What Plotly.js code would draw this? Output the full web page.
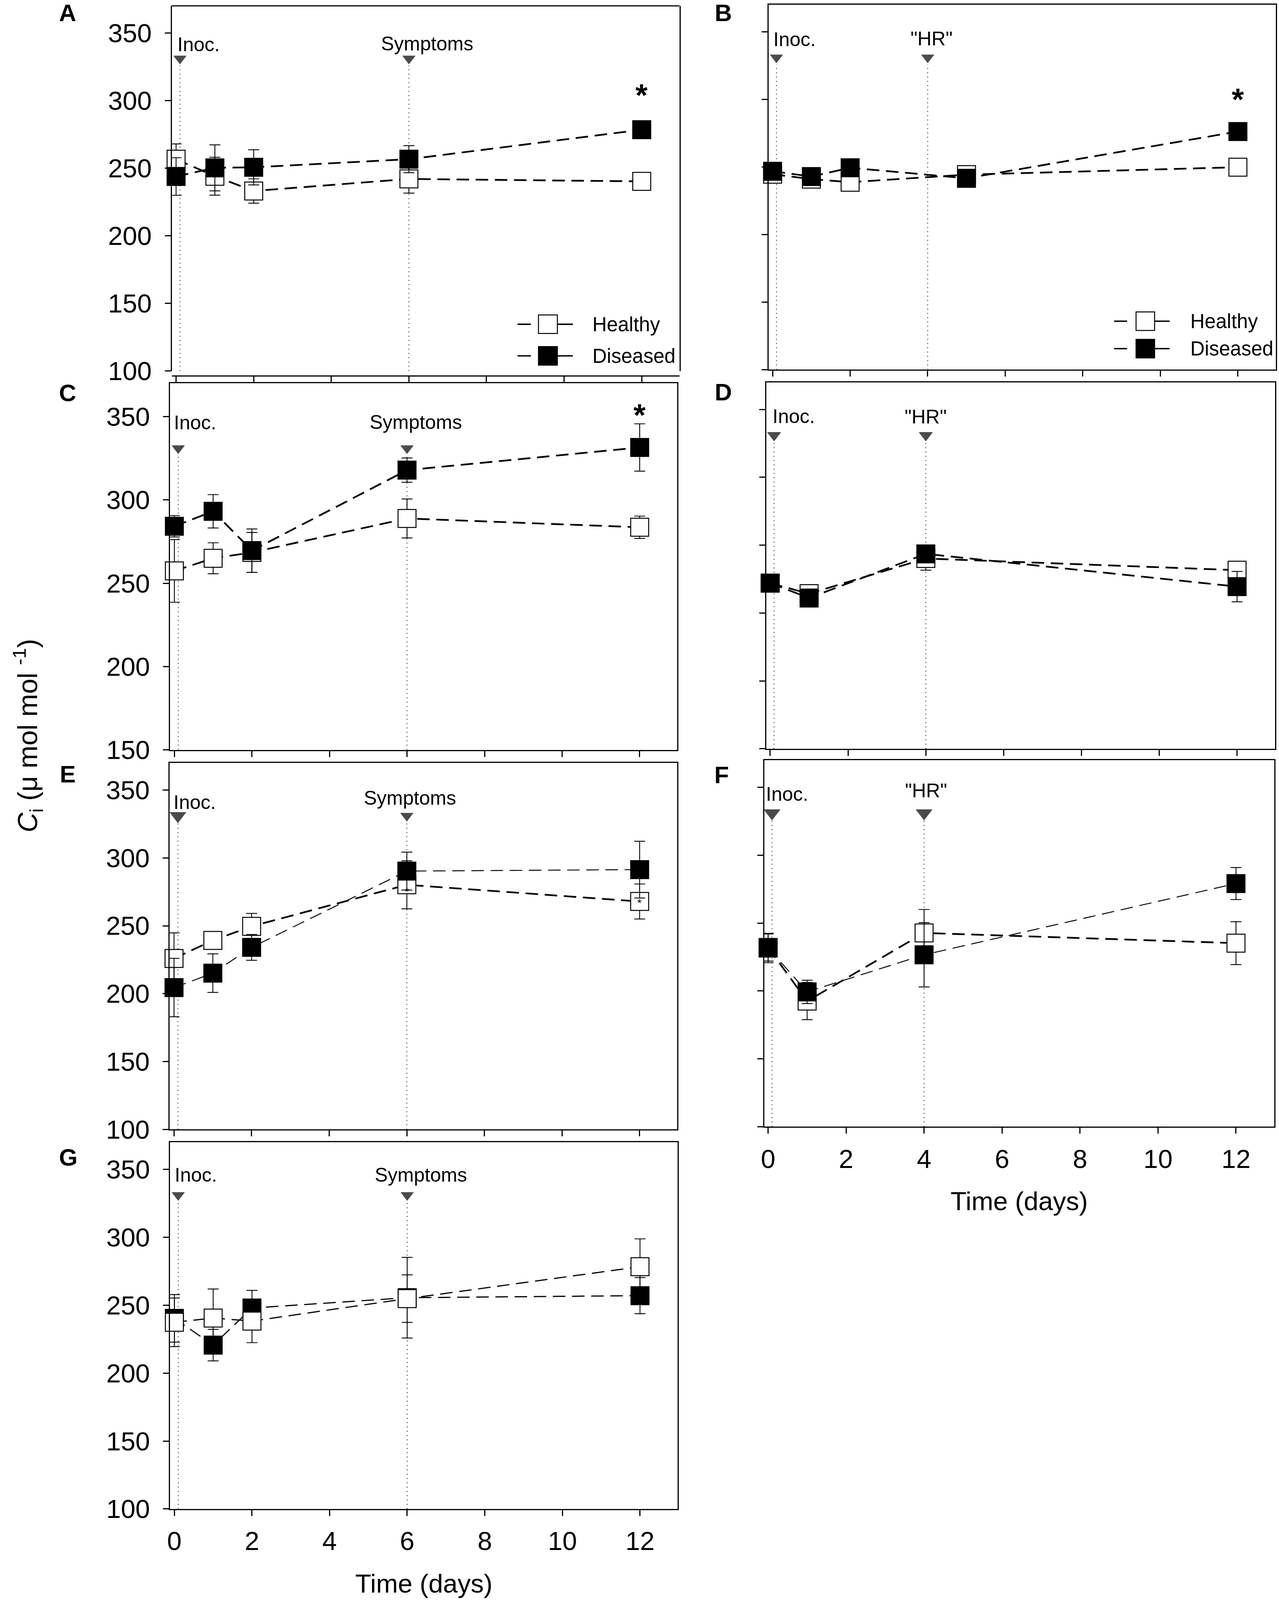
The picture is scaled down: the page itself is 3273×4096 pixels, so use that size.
<!DOCTYPE html>
<html><head><meta charset="utf-8">
<script src="https://cdn.plot.ly/plotly-3.0.1.min.js"></script>
<style>html,body{margin:0;padding:0;background:#fff}#chart{width:3273px;height:4096px}</style>
</head><body><div id="chart"></div>
<script>
// ---------------- data ----------------
const xTicks = [0, 2, 4, 6, 8, 10, 12];
const xTickLabels = ['0', '2', '4', '6', '8', '10', '12'];
const yTicks = [100, 150, 200, 250, 300, 350];
const yTickLabels = ['100', '150', '200', '250', '300', '350'];
const yTicksC = [150, 200, 250, 300, 350];
const yTickLabelsC = ['150', '200', '250', '300', '350'];
const seriesNames = ['Healthy', 'Diseased'];

const daysA = [0, 1, 2, 6, 12];
const healthyA = [256.6, 244.0, 233.1, 242.0, 240.2];
const healthySeA = [11.3, 14.0, 9.0, 10.5, 2.0];
const diseasedA = [243.8, 250.2, 250.6, 256.6, 278.4];
const diseasedSeA = [13.9, 17.0, 13.0, 10.0, 2.0];

const daysB = [0, 1, 2, 5, 12];
const healthyB = [244.6, 241.0, 238.7, 244.3, 249.8];
const healthySeB = [2, 2, 2, 2, 2];
const diseasedB = [246.8, 242.9, 249.4, 241.6, 276.2];
const diseasedSeB = [2, 2.5, 2, 2, 3];

const daysC = [0, 1, 2, 6, 12];
const healthyC = [257.4, 265.0, 268.5, 288.9, 283.6];
const healthySeC = [18.8, 9.3, 12.0, 11.7, 6.7];
const diseasedC = [284.2, 293.2, 269.6, 317.9, 331.5];
const diseasedSeC = [6.4, 10.0, 13.0, 7.3, 14.2];

const daysD = [0, 1, 4, 12];
const healthyD = [222.0, 214.3, 240.2, 231.6];
const healthySeD = [2, 2, 8.6, 2];
const diseasedD = [222.1, 211.1, 243.6, 219.5];
const diseasedSeD = [2, 2, 2, 11.2];

const daysE = [0, 1, 2, 6, 12];
const healthyE = [225.9, 239.2, 249.6, 280.2, 267.9];
const healthySeE = [18.9, 3.0, 9.5, 17.7, 12.9];
const diseasedE = [204.5, 215.1, 234.1, 290.3, 291.4];
const diseasedSeE = [21.5, 14.2, 9.5, 14.0, 20.9];

const daysF = [0, 1, 4, 12];
const healthyF = [232.0, 192.5, 242.7, 235.2];
const healthySeF = [10.0, 13.7, 17.3, 15.8];
const diseasedF = [231.6, 199.3, 226.6, 279.1];
const diseasedSeF = [10.8, 8.6, 23.7, 11.8];

const daysG = [0, 1, 2, 6, 12];
const healthyG = [237.4, 240.5, 238.3, 254.8, 278.3];
const healthySeG = [17.9, 21.4, 15.9, 17.5, 20.5];
const diseasedG = [240.3, 220.6, 247.9, 255.5, 257.0];
const diseasedSeG = [17.5, 11.6, 13.0, 29.7, 13.3];

// events (day of inoculation, day of symptoms / "HR")
const inocDay = 0.1;
const symptomsDay = 6;
const hrDay = 4;
const eventLabels = ['Inoc.', 'Symptoms', '"HR"'];
const signifDay = 12;

// ---------------- layout geometry (reference px 3722 x 4658) ----------------
const RW = 3722, RH = 4658;
const px = v => v / RW;
const py = v => 1 - v / RH;
const FONT = 'Liberation Sans, Arial, Helvetica, sans-serif';

const panels = [
  {id:'', letter:'A', days:daysA, h:healthyA, hs:healthySeA, d:diseasedA, ds:diseasedSeA,
   x0:500, x1:1977, y0:17, y1:1080, free:1094, yr:[100,370], xr:[-0.11,12.97], yl:true, xl:false,
   ev:symptomsDay, evText:eventLabels[1], inocLab:[0.01,341.5,'left'], evLab:[5.26,342,'left'],
   tri:[28,28], hw:4.4, dw:4.4, diseasedTop:true, letterPos:[197,35], topLetter:true, star:309},
  {id:'2', letter:'B', days:daysB, h:healthyB, hs:healthySeB, d:diseasedB, ds:diseasedSeB,
   x0:2237, x1:3713, y0:14, y1:1076, yr:[100,370], xr:[-0.10,12.98], yl:false, xl:false,
   ev:hrDay, evText:eventLabels[2], inocLab:[0.0,344.5,'left'], evLab:[4.1,345,'center'],
   tri:[28,28], hw:4.4, dw:4.4, diseasedTop:true, letterPos:[2105,32], topLetter:true, star:304.8},
  {id:'3', letter:'C', days:daysC, h:healthyC, hs:healthySeC, d:diseasedC, ds:diseasedSeC,
   x0:495, x1:1971, y0:1116, y1:2183, yr:[150,370], xr:[-0.11,12.97], yl:true, xl:false, cticks:true,
   ev:symptomsDay, evText:eventLabels[1], inocLab:[-0.03,346.5,'left'], evLab:[5.02,346.7,'left'],
   tri:[28,28], hw:4.4, dw:4.4, diseasedTop:true, letterPos:[197,1144], star:355},
  {id:'4', letter:'D', days:daysD, h:healthyD, hs:healthySeD, d:diseasedD, ds:diseasedSeD,
   x0:2230, x1:3711, y0:1113, y1:2180, yr:[100,370], xr:[-0.10,12.98], yl:false, xl:false,
   ev:hrDay, evText:eventLabels[2], inocLab:[0.04,345,'left'], evLab:[4.0,344.5,'center'],
   tri:[30,30], hw:4.4, dw:4.4, diseasedTop:true, letterPos:[2105,1142]},
  {id:'5', letter:'E', days:daysE, h:healthyE, hs:healthySeE, d:diseasedE, ds:diseasedSeE,
   x0:494, x1:1971, y0:2221, y1:3288, yr:[100,370], xr:[-0.11,12.97], yl:true, xl:false,
   ev:symptomsDay, evText:eventLabels[1], inocLab:[-0.03,341,'left'], evLab:[4.87,344,'left'],
   tri:[36,28], hw:4.4, dw:2.4, diseasedTop:true, letterPos:[197,2254], smallStars:[[6,277],[12,268.5]]},
  {id:'6', letter:'F', days:daysF, h:healthyF, hs:healthySeF, d:diseasedF, ds:diseasedSeF,
   x0:2224, x1:3708, y0:2213, y1:3280, yr:[100,370], xr:[-0.10,12.98], yl:false, xl:true,
   ev:hrDay, evText:eventLabels[2], inocLab:[-0.08,345,'left'], evLab:[4.05,347.5,'center'],
   tri:[36,36], hw:4.4, dw:2.4, diseasedTop:true, letterPos:[2100,2256]},
  {id:'7', letter:'G', days:daysG, h:healthyG, hs:healthySeG, d:diseasedG, ds:diseasedSeG,
   x0:495, x1:1972, y0:3325, y1:4393, yr:[100,370], xr:[-0.11,12.97], yl:true, xl:true,
   ev:symptomsDay, evText:eventLabels[1], inocLab:[-0.01,345.7,'left'], evLab:[5.14,345.7,'left'],
   tri:[28,28], hw:3.0, dw:3.0, diseasedTop:false, letterPos:[198,3370]}
];

const traces = [];
const shapes = [];
const annotations = [];
const layout = {
  width: 3273, height: 4096, margin: {l:0, r:0, t:0, b:0},
  paper_bgcolor: 'white', plot_bgcolor: 'rgba(0,0,0,0)',
  font: {family: FONT, color: 'black', size: 50},
  showlegend: false, hovermode: false
};

function seriesTrace(p, name, ys, se, filled, lw) {
  return {
    type: 'scatter', mode: 'lines+markers', name: name,
    x: p.days, y: ys, xaxis: 'x' + p.id, yaxis: 'y' + p.id,
    line: {color: 'black', width: lw, dash: '32px,17px'},
    marker: {symbol: 'square', size: 46, color: filled ? 'black' : 'white',
             line: {color: 'black', width: 2.5}},
    error_y: {type: 'data', array: se, symmetric: true, visible: true,
              color: 'black', thickness: 2.2, width: 14},
    cliponaxis: false, showlegend: false
  };
}

panels.forEach(p => {
  const xa = 'x' + p.id, ya = 'y' + p.id;
  const xKey = 'xaxis' + p.id, yKey = 'yaxis' + p.id;
  const xAx = {
    domain: [px(p.x0), px(p.x1)], range: p.xr, anchor: ya,
    tickmode: 'array', tickvals: xTicks, ticktext: xTickLabels, showticklabels: p.xl,
    ticks: 'outside', ticklen: 15, tickwidth: 3, tickcolor: 'black',
    showline: true, linewidth: 3, linecolor: 'black', mirror: true,
    showgrid: false, zeroline: false, fixedrange: true,
    tickfont: {size: 67, family: FONT}, ticklabelstandoff: 7
  };
  if (p.free) { xAx.anchor = 'free'; xAx.position = py(p.free); xAx.mirror = false; }
  if (p.xl) xAx.title = {text: 'Time (days)', font: {size: 67, family: FONT}, standoff: 49};
  layout[xKey] = xAx;
  layout[yKey] = {
    domain: [py(p.y1), py(p.y0)], range: p.yr, anchor: xa,
    tickmode: 'array', tickvals: p.cticks ? yTicksC : yTicks,
    ticktext: p.cticks ? yTickLabelsC : yTickLabels, showticklabels: p.yl,
    ticks: 'outside', ticklen: 15, tickwidth: 3, tickcolor: 'black',
    showline: true, linewidth: 3, linecolor: 'black', mirror: true,
    showgrid: false, zeroline: false, fixedrange: true,
    tickfont: {size: 67, family: FONT}, ticklabelstandoff: 20
  };
  if (p.free) {
    shapes.push({type: 'line', xref: xa + ' domain', yref: ya + ' domain', x0: 0, x1: 1, y0: 1, y1: 1,
                 line: {color: 'black', width: 3}});
  }
  // event dotted lines
  [inocDay, p.ev].forEach(dday => {
    shapes.push({type: 'line', xref: xa, yref: ya, x0: dday, x1: dday, y0: p.yr[0], y1: 326,
                 line: {color: 'black', width: 2, dash: '2px,9px'}, layer: 'below'});
  });
  // event triangles
  traces.push({type: 'scatter', mode: 'markers', x: [inocDay, p.ev], y: [331, 331],
               xaxis: xa, yaxis: ya, showlegend: false, cliponaxis: false,
               marker: {symbol: 'triangle-down', size: p.tri, color: 'black', line: {color: 'black', width: 1}}});
  // series
  const hT = seriesTrace(p, seriesNames[0], p.h, p.hs, false, p.hw);
  const dT = seriesTrace(p, seriesNames[1], p.d, p.ds, true, p.dw);
  if (p.diseasedTop) { traces.push(hT, dT); } else { traces.push(dT, hT); }

  // event labels
  annotations.push({xref: xa, yref: ya, x: p.inocLab[0], y: p.inocLab[1], text: eventLabels[0],
                    showarrow: false, xanchor: p.inocLab[2], yanchor: 'middle',
                    font: {size: 50, family: FONT}});
  annotations.push({xref: xa, yref: ya, x: p.evLab[0], y: p.evLab[1], text: p.evText,
                    showarrow: false, xanchor: p.evLab[2], yanchor: 'middle',
                    font: {size: 50, family: FONT}});
  // panel letter
  if (p.topLetter) {
    annotations.push({xref: 'paper', yref: 'paper', x: px(p.letterPos[0]), y: 1,
                      text: '<b>' + p.letter + '</b>', showarrow: false, xanchor: 'center', yanchor: 'top',
                      borderpad: 0, yshift: 2, font: {size: 61, family: FONT}});
  } else {
    annotations.push({xref: 'paper', yref: 'paper', x: px(p.letterPos[0]), y: py(p.letterPos[1]),
                      text: '<b>' + p.letter + '</b>', showarrow: false, xanchor: 'center', yanchor: 'middle',
                      font: {size: 61, family: FONT}});
  }
  if (p.star) {
    annotations.push({xref: xa, yref: ya, x: signifDay, y: p.star, text: '<b>*</b>', showarrow: false,
                      xanchor: 'center', yanchor: 'middle', yshift: -17, font: {size: 80, family: FONT}});
  }
  if (p.smallStars) {
    p.smallStars.forEach(s => annotations.push({xref: xa, yref: ya, x: s[0], y: s[1], text: '*',
      showarrow: false, xanchor: 'center', yanchor: 'middle', yshift: -6, font: {size: 28, family: FONT}}));
  }
});

// manual legends (panels A and B)  [dashStart, dashEnd, sqStart, sqEnd, lineEnd, textStart, rowH, rowD]
const legendGeo = [
  [1506, 1545, 1567, 1622, 1667, 1722, 944, 1036],
  [3242, 3280, 3306, 3360, 3404, 3462, 935, 1015]
];
legendGeo.forEach(g => {
  [[g[6], false, seriesNames[0]], [g[7], true, seriesNames[1]]].forEach(r => {
    const yy = py(r[0]);
    shapes.push({type: 'line', xref: 'paper', yref: 'paper', x0: px(g[0]), x1: px(g[1]), y0: yy, y1: yy,
                 line: {color: 'black', width: 3.6}});
    shapes.push({type: 'line', xref: 'paper', yref: 'paper', x0: px(g[3]), x1: px(g[4]), y0: yy, y1: yy,
                 line: {color: 'black', width: 3.6}});
    shapes.push({type: 'rect', xref: 'paper', yref: 'paper', x0: px(g[2]), x1: px(g[3]),
                 y0: py(r[0] + 27), y1: py(r[0] - 27),
                 fillcolor: r[1] ? 'black' : 'white', line: {color: 'black', width: 2.5}});
    annotations.push({xref: 'paper', yref: 'paper', x: px(g[5]), y: yy, text: r[2], showarrow: false,
                      xanchor: 'left', yanchor: 'middle', font: {size: 51, family: FONT}});
  });
});

// shared y-axis title
annotations.push({xref: 'paper', yref: 'paper', x: px(80), y: py(2142), textangle: -90,
                  text: '<i>C</i><sub>i</sub> (μ mol mol <sup>-1</sup>)', showarrow: false,
                  xanchor: 'center', yanchor: 'middle', font: {size: 70, family: FONT}});

layout.shapes = shapes;
layout.annotations = annotations;

Plotly.newPlot('chart', traces, layout, {staticPlot: true, displayModeBar: false});
</script>
</body></html>
